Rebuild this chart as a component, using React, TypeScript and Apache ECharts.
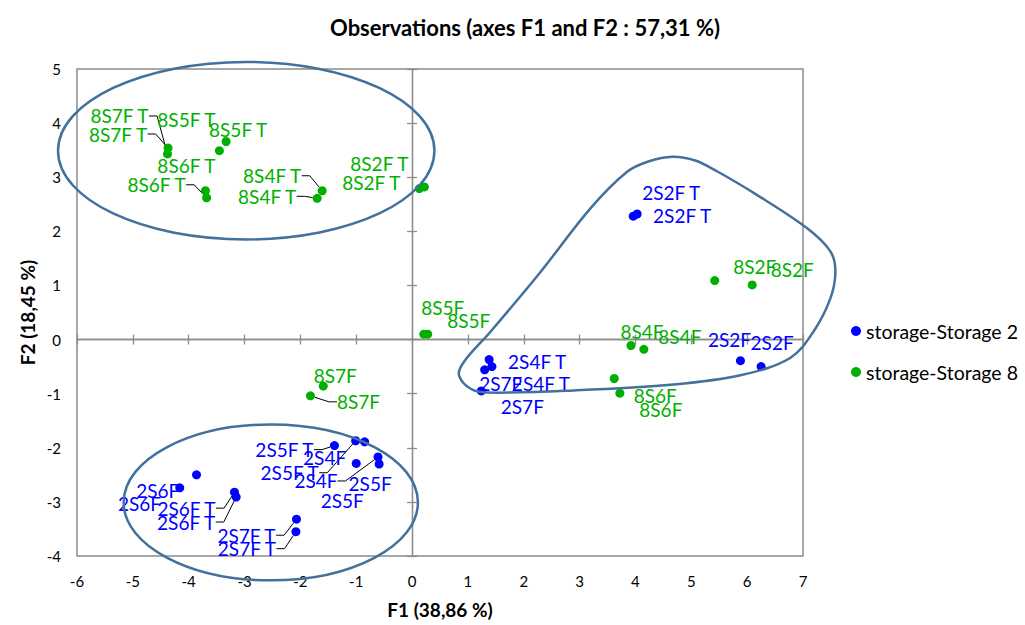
import React, { useEffect, useRef } from "react";
import * as echarts from "echarts";

// ---- Data ----
const S2_NAMES = [
  "2S2F T", "2S2F T", "2S2F", "2S2F", "2S4F T", "2S4F T", "2S7F", "2S7F",
  "2S5F T", "2S5F T", "2S4F", "2S4F", "2S5F", "2S5F", "2S6F", "2S6F",
  "2S6F T", "2S6F T", "2S7F T", "2S7F T",
];
const S2_F1 = [3.96, 4.03, 5.88, 6.25, 1.38, 1.43, 1.30, 1.24, -1.39, -1.01, -0.85, -0.61, -1.00, -0.59, -3.86, -4.16, -3.18, -3.15, -2.07, -2.08];
const S2_F2 = [2.28, 2.32, -0.39, -0.50, -0.37, -0.50, -0.56, -0.95, -1.96, -1.87, -1.89, -2.17, -2.29, -2.30, -2.50, -2.74, -2.82, -2.91, -3.32, -3.55];

const S8_NAMES = [
  "8S7F T", "8S7F T", "8S5F T", "8S5F T", "8S6F T", "8S6F T", "8S4F T", "8S4F T",
  "8S2F T", "8S2F T", "8S2F", "8S2F", "8S5F", "8S5F", "8S4F", "8S4F",
  "8S6F", "8S6F", "8S7F", "8S7F",
];
const S8_F1 = [-4.37, -4.38, -3.33, -3.45, -3.70, -3.68, -1.61, -1.70, 0.22, 0.13, 5.42, 6.09, 0.21, 0.28, 3.92, 4.15, 3.62, 3.72, -1.59, -1.82];
const S8_F2 = [3.54, 3.43, 3.66, 3.49, 2.75, 2.62, 2.75, 2.61, 2.82, 2.79, 1.09, 1.01, 0.10, 0.10, -0.11, -0.18, -0.72, -0.99, -0.86, -1.04];

const X_TICKS = { min: -6, max: 7, interval: 1 };
const Y_TICKS = { min: -4, max: 5, interval: 1 };

const TITLE = "Observations (axes F1 and F2 : 57,31 %)";
const X_NAME = "F1 (38,86 %)";
const Y_NAME = "F2 (18,45 %)";
const SERIES_NAMES = ["storage-Storage 2", "storage-Storage 8"];

// ---- Label placement (styling: pixel offsets of each label from its point) ----
const S2_LABEL_OFFSETS = [
  [38, -24], [45, 1], [-11, -21], [11, -24], [48, 2], [49, 17], [16, 14], [41, 16],
  [-50, 4], [-66, 32], [-40, 16], [-62, 24], [-14, 37], [-9, 19], [-57, 29], [-22, 3],
  [-48, 16], [-50, 25], [-50, 16], [-49, 17],
];
const S2_LEADERS = [0, 0, 0, 0, 0, 0, 0, 0, 1, 1, 0, 1, 0, 0, 0, 0, 1, 1, 1, 1];
const S8_LABEL_OFFSETS = [
  [-50, -14], [-48, -38], [12, -12], [-33, -31], [-19, -25], [-50, -13], [-50, -15], [-50, -2],
  [-45, -23], [-48, -6], [40, -14], [40, -15], [19, -27], [41, -14], [11, -14], [36, -13],
  [41, 17], [41, 16], [12, -11], [48, 6],
];
const S8_LEADERS = [1, 1, 0, 0, 0, 1, 1, 1, 0, 0, 0, 0, 0, 0, 0, 0, 0, 0, 0, 1];

// ---- Annotation outlines (in F1/F2 units) ----
const ELLIPSES = [
  { cx: -2.97, cy: 3.49, rx: 3.37, ry: 1.64 },
  { cx: -2.53, cy: -3.01, rx: 2.635, ry: 1.44 },
];
const BLOB = [
  [4.66, 3.38], [5.07, 3.31], [5.46, 3.11], [6.18, 2.67], [7.07, 2.06], [7.49, 1.63], [7.58, 1.26],
  [7.49, 0.76], [7.19, 0.15], [6.77, -0.34], [5.88, -0.66], [4.68, -0.83], [2.89, -0.94],
  [1.35, -0.98], [1.05, -0.91], [0.84, -0.66], [0.93, -0.41], [1.40, 0.14], [2.30, 1.25],
  [3.19, 2.42], [3.85, 3.10], [4.23, 3.29],
];

const BLUE = "#0000FF";
const GREEN = "#00B000";
const OUTLINE = "#41719C";
const FRAME = "#8C8C8C";
const FONT = "Lato";

function buildData(names: string[], xs: number[], ys: number[], leaders: number[]) {
  return names.map((n, i) => ({
    name: n,
    value: [xs[i], ys[i]],
    labelLine: { show: !!leaders[i], length2: 8, lineStyle: { color: "#000", width: 1 } },
  }));
}

function makeSeries(name: string, color: string, data: any[], offsets: number[][]) {
  return {
    name,
    type: "scatter",
    xAxisIndex: 0,
    yAxisIndex: 0,
    symbol: "circle",
    symbolSize: 9,
    itemStyle: { color, opacity: 1 },
    data,
    label: {
      show: true,
      position: "inside",
      formatter: "{b}",
      color,
      fontFamily: FONT,
      fontSize: 19,
    },
    labelLine: { show: false, length2: 8, lineStyle: { color: "#000", width: 1 } },
    labelLayout: (p: any) => {
      const o = offsets[p.dataIndex] || [0, 0];
      return { dx: o[0], dy: o[1], hideOverlap: false };
    },
    emphasis: { disabled: true },
    z: 5,
  };
}

function valueAxis(range: any, extra: any) {
  return {
    type: "value",
    min: range.min,
    max: range.max,
    interval: range.interval,
    splitLine: { show: false },
    ...extra,
  };
}

export default function App() {
  const ref = useRef<HTMLDivElement>(null);
  useEffect(() => {
    if (!ref.current) return;
    const chart = echarts.init(ref.current, null, { renderer: "svg" });
    const zeroLine = { show: true, onZero: true, lineStyle: { color: FRAME, width: 1.3 } };
    const tickStyle = { color: FRAME, width: 1.3 };
    const labelStyle = { color: "#000", fontFamily: FONT, fontSize: 15 };
    const option: any = {
      animation: false,
      backgroundColor: "#fff",
      title: {
        text: TITLE,
        left: 520,
        top: 11,
        textAlign: "center",
        textStyle: { fontFamily: FONT, fontWeight: "bold", fontSize: 22, color: "#000" },
      },
      legend: {
        orient: "vertical",
        left: 846,
        top: 316,
        itemWidth: 10,
        itemHeight: 10,
        itemGap: 21,
        icon: "circle",
        data: SERIES_NAMES,
        textStyle: { fontFamily: FONT, fontSize: 19.5, color: "#000" },
      },
      grid: {
        left: 77,
        right: 222,
        top: 69,
        bottom: 69,
        show: true,
        borderColor: FRAME,
        borderWidth: 1.5,
        backgroundColor: "transparent",
        outerBoundsMode: "none",
        containLabel: false,
      },
      xAxis: [
        valueAxis(X_TICKS, {
          position: "bottom",
          axisLine: { show: false, onZero: false },
          axisTick: { show: false },
          axisLabel: { ...labelStyle, margin: 17 },
          name: X_NAME,
          nameLocation: "middle",
          nameGap: 44,
          nameMoveOverlap: false,
          nameTextStyle: { fontFamily: FONT, fontWeight: "bold", fontSize: 19, color: "#000" },
        }),
        valueAxis(X_TICKS, {
          axisLine: zeroLine,
          axisTick: { show: true, inside: false, length: 5, lineStyle: tickStyle },
          axisLabel: { show: false },
        }),
        valueAxis(X_TICKS, {
          axisLine: zeroLine,
          axisTick: { show: true, inside: true, length: 5, lineStyle: tickStyle },
          axisLabel: { show: false },
        }),
      ],
      yAxis: [
        valueAxis(Y_TICKS, {
          position: "left",
          axisLine: { show: false, onZero: false },
          axisTick: { show: false },
          axisLabel: { ...labelStyle, margin: 16 },
          name: Y_NAME,
          nameLocation: "middle",
          nameGap: 40,
          nameMoveOverlap: false,
          nameTextStyle: { fontFamily: FONT, fontWeight: "bold", fontSize: 19, color: "#000" },
        }),
        valueAxis(Y_TICKS, {
          axisLine: zeroLine,
          axisTick: { show: true, inside: false, length: 5, lineStyle: tickStyle },
          axisLabel: { show: false },
        }),
        valueAxis(Y_TICKS, {
          axisLine: zeroLine,
          axisTick: { show: true, inside: true, length: 5, lineStyle: tickStyle },
          axisLabel: { show: false },
        }),
      ],
      series: [
        makeSeries(SERIES_NAMES[0], BLUE, buildData(S2_NAMES, S2_F1, S2_F2, S2_LEADERS), S2_LABEL_OFFSETS),
        makeSeries(SERIES_NAMES[1], GREEN, buildData(S8_NAMES, S8_F1, S8_F2, S8_LEADERS), S8_LABEL_OFFSETS),
      ],
    };
    chart.setOption(option);

    const toPx = (p: number[]) => chart.convertToPixel({ seriesIndex: 0 }, p) as number[];
    const outlineStyle = { fill: "none", stroke: OUTLINE, lineWidth: 2.5 };
    const graphics: any[] = ELLIPSES.map((e) => {
      const c = toPx([e.cx, e.cy]);
      const r1 = toPx([e.cx + e.rx, e.cy]);
      const r2 = toPx([e.cx, e.cy + e.ry]);
      return {
        type: "ellipse",
        silent: true,
        z: 100,
        shape: { cx: c[0], cy: c[1], rx: r1[0] - c[0], ry: c[1] - r2[1] },
        style: outlineStyle,
      };
    });
    graphics.push({
      type: "polygon",
      silent: true,
      z: 100,
      shape: { points: BLOB.map((p) => toPx(p)), smooth: 0.35 },
      style: outlineStyle,
    });
    chart.setOption({ graphic: graphics });

    return () => chart.dispose();
  }, []);
  return (
    <div
      ref={ref}
      style={{ position: "absolute", left: 0, top: 0, width: 1025, height: 625, background: "#fff" }}
    />
  );
}
